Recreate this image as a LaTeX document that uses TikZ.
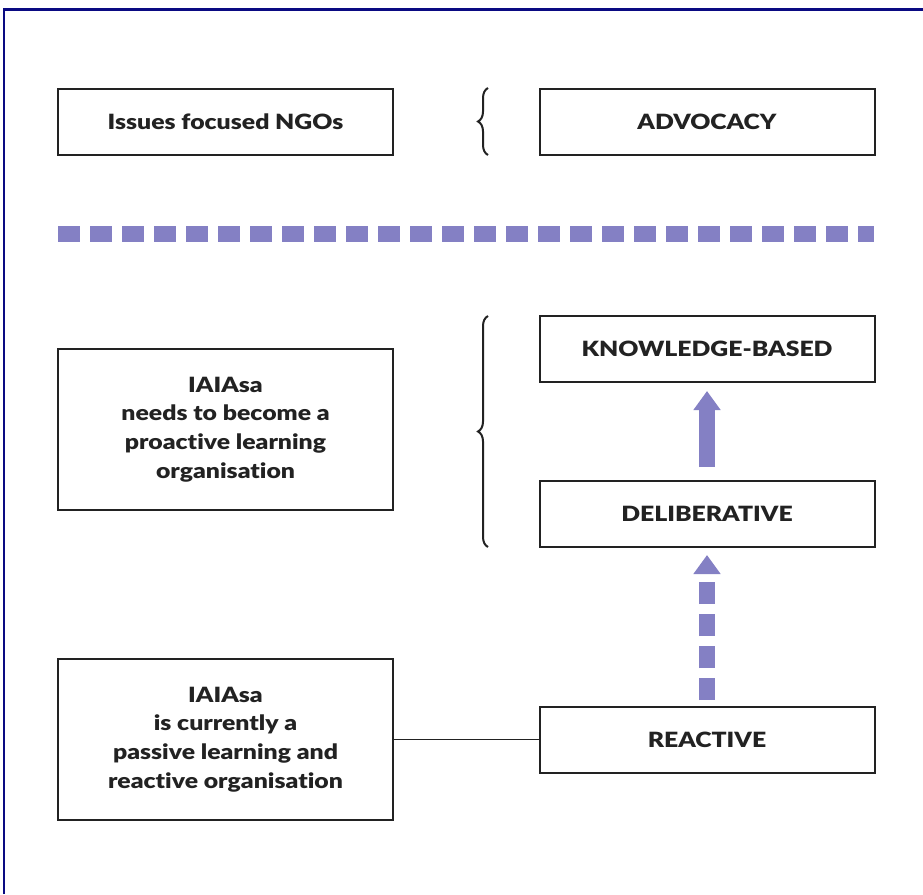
\documentclass[tikz,border=0pt]{standalone}
\usepackage{fontspec}
\setmainfont{Lato}[BoldFont={Lato Black}, BoldFeatures={FakeStretch=1.18}, RawFeature=-liga]
\usetikzlibrary{arrows.meta,decorations.pathreplacing}
\definecolor{boxline}{RGB}{34,34,34}
\definecolor{lilac}{RGB}{132,128,196}
\definecolor{frameblue}{RGB}{10,10,130}
\tikzset{
  block/.style={draw=boxline, line width=2pt, minimum width=335pt, minimum height=66pt,
    align=center, font=\fontsize{21}{28.7}\selectfont\bfseries, text=boxline, inner sep=0pt},
  tallblock/.style={block, minimum height=161pt},
  curly/.style={decorate, decoration={brace, amplitude=10pt, mirror}, line width=2pt, draw=boxline},
}
\begin{document}
\begin{tikzpicture}[x=1pt, y=-1pt]
    \useasboundingbox (0,0) rectangle (923,894);
    \fill[white] (0,0) rectangle (923,894);
    % Rahmen (nur oben und links sichtbar)
    \draw[frameblue, line width=2.5pt] (4,894) -- (4,9.5) -- (923,9.5);

    % obere Reihe
    \node[block] (ngo) at (225.5,121.5) {Issues focused NGOs};
    \node[block] (advocacy) at (707,121.5) {ADVOCACY};
    \draw[curly] (488,88) -- (488,155);

    % Trennlinie
    \draw[lilac, line width=16pt, dash pattern=on 22pt off 10pt] (58,234) -- (874,234);

    % mittlere Reihe
    \node[block] (knowledge) at (707,349) {KNOWLEDGE-BASED};
    \node[block] (deliberative) at (707,514) {DELIBERATIVE};
    \node[tallblock] (needs) at (225.5,429.5) {IAIAsa\\needs to become a\\proactive learning\\organisation};
    \draw[curly] (488,316) -- (488,547);

    % untere Reihe
    \node[block] (reactive) at (707,739.5) {REACTIVE};
    \node[tallblock] (current) at (225.5,739.5) {IAIAsa\\is currently a\\passive learning and\\reactive organisation};
    \draw[boxline, line width=1.6pt] (current.east) -- (reactive.east -| reactive.west);

    % Pfeile
    \draw[lilac, line width=16pt, -{Triangle[width=26pt, length=19pt]}]
      ([yshift=13pt]deliberative.north) -- ([yshift=-8pt]knowledge.south);
    \draw[lilac, line width=16pt, dash pattern=on 22pt off 10pt, -{Triangle[width=26pt, length=19pt]}]
      ([yshift=5.5pt]reactive.north) -- ([yshift=-7pt]deliberative.south);
\end{tikzpicture}
\end{document}
